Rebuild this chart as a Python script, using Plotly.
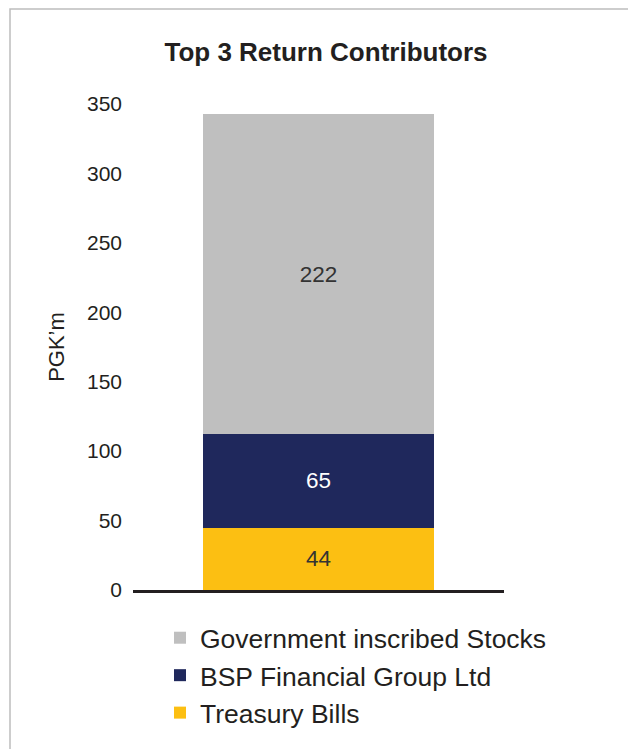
import plotly.graph_objects as go

category = ["Top 3"]
series_names = ["Treasury Bills", "BSP Financial Group Ltd", "Government inscribed Stocks"]
treasury_bills = [45]
bsp_financial = [67]
gov_stocks = [231]
value_labels = [["44"], ["65"], ["222"]]
colors = ["#FCBF12", "#1F285C", "#BFBFBF"]
text_colors = ["#333333", "#FFFFFF", "#333333"]
y_ticks = [0, 50, 100, 150, 200, 250, 300, 350]

FONT = "Liberation Sans, Arial, sans-serif"
OFF = 8  # page body margin
W, H = 636 - OFF, 749 - OFF

fig = go.Figure()
for i, (name, vals, lab, col, tcol) in enumerate(zip(series_names, [treasury_bills, bsp_financial, gov_stocks],
                                       value_labels, colors, text_colors)):
    fig.add_trace(go.Bar(
        x=category, y=vals, name=name, marker=dict(color=col, line=dict(width=0)),
        text=lab, texttemplate="%{text}", textposition="inside", insidetextanchor="middle",
        textfont=dict(color=tcol, size=22.5, family=FONT), width=0.62,
        legendrank=3 - i, hoverinfo="skip",
    ))

L, T = 133 - OFF, 104 - OFF
R = W - (504 - OFF)
B = H - (590 - OFF)
pw = W - L - R
ph = H - T - B

def px_x(px):
    return (px - OFF - L) / pw

def px_y(py):
    return (H - B - (py - OFF)) / ph

fig.update_layout(
    width=W, height=H,
    margin=dict(l=L, r=R, t=T, b=B, autoexpand=False),
    barmode="stack",
    paper_bgcolor="white", plot_bgcolor="white",
    font=dict(family=FONT, color="#231F20"),
    title=dict(text="<b>Top 3 Return Contributors</b>", x=(326 - OFF) / W, xanchor="center",
               y=1 - (52 - OFF) / H, yanchor="middle", font=dict(size=26, color="#231F20")),
    showlegend=True,
    legend=dict(traceorder="normal", x=px_x(160), xanchor="left", y=px_y(614), yanchor="top",
                font=dict(size=26.5, color="#231F20"), itemwidth=30,
                bgcolor="rgba(0,0,0,0)"),
    xaxis=dict(showticklabels=False, showline=True, linecolor="#231F20", linewidth=2.5,
               showgrid=False, zeroline=False, ticks="", range=[-0.5, 0.5], fixedrange=True),
    yaxis=dict(range=[0, 350], tickvals=y_ticks, showgrid=False, zeroline=False, showline=False,
               ticks="", ticklabelstandoff=10, tickfont=dict(size=21, color="#231F20"),
               title=dict(text="PGK’m", font=dict(size=22, color="#231F20"), standoff=16)),
    shapes=[dict(type="rect", xref="paper", yref="paper",
                 x0=px_x(10), x1=px_x(635), y0=px_y(770), y1=px_y(9),
                 line=dict(color="#BDBDBD", width=1.5), fillcolor="rgba(0,0,0,0)", layer="below")],
)

fig.write_html("out.html")
